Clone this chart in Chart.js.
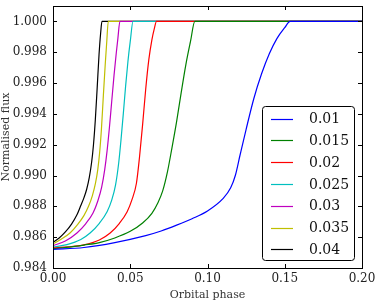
<!DOCTYPE html>
<html>
<head>
<meta charset="utf-8">
<script src="https://cdn.jsdelivr.net/npm/chart.js@4/dist/chart.umd.min.js"></script>
<style>
    html, body { margin: 0; padding: 0; background: #fff; }
    #wrap { width: 375px; height: 302px; }
</style>
</head>
<body>
<div id="wrap"><canvas id="fluxChart"></canvas></div>
<script>
// Light-curve egress for several radius ratios
const seriesLabels = ['0.01', '0.015', '0.02', '0.025', '0.03', '0.035', '0.04'];
const seriesColors = ['#0000ff', '#008000', '#ff0000', '#00bfbf', '#bf00bf', '#bfbf00', '#000000'];

const phase001 = [0, 0.02, 0.04, 0.06, 0.07, 0.08, 0.09, 0.10, 0.11, 0.115, 0.118, 0.121, 0.125, 0.13, 0.135, 0.14, 0.145, 0.15, 0.1535, 0.2];
const flux001 = [0.98520, 0.98533, 0.98565, 0.98610, 0.98640, 0.98678, 0.98720, 0.98770, 0.98850, 0.98920, 0.99000, 0.99130, 0.99300, 0.99500, 0.99660, 0.99790, 0.99890, 0.99960, 1.0, 1.0];

const phase0015 = [0, 0.01, 0.02, 0.03, 0.04, 0.05, 0.058, 0.064, 0.068, 0.071, 0.074, 0.077, 0.080, 0.083, 0.086, 0.089, 0.0918, 0.2];
const flux0015 = [0.98525, 0.98535, 0.98549, 0.98565, 0.98595, 0.98638, 0.98692, 0.98755, 0.98825, 0.98900, 0.99020, 0.99180, 0.99350, 0.99540, 0.99720, 0.99870, 1.0, 1.0];

const phase002 = [0, 0.01, 0.02, 0.03, 0.037, 0.043, 0.048, 0.051, 0.054, 0.056, 0.058, 0.060, 0.062, 0.064, 0.0655, 0.067, 0.2];
const flux002 = [0.98530, 0.98537, 0.98550, 0.98582, 0.98627, 0.98690, 0.98765, 0.98840, 0.98950, 0.99120, 0.99330, 0.99560, 0.99750, 0.99880, 0.99950, 1.0, 1.0];

const phase0025 = [0, 0.009, 0.018, 0.024, 0.030, 0.035, 0.038, 0.0405, 0.0425, 0.044, 0.0455, 0.047, 0.0485, 0.050, 0.0518, 0.2];
const flux0025 = [0.98536, 0.98552, 0.98585, 0.98627, 0.98690, 0.98765, 0.98840, 0.98940, 0.99080, 0.99230, 0.99400, 0.99580, 0.99740, 0.99870, 1.0, 1.0];

const phase003 = [0, 0.008, 0.0155, 0.021, 0.0259, 0.029, 0.0315, 0.0335, 0.035, 0.0365, 0.038, 0.0395, 0.041, 0.042, 0.0433, 0.2];
const flux003 = [0.98545, 0.98575, 0.98627, 0.98685, 0.98757, 0.98835, 0.98925, 0.99040, 0.99160, 0.99310, 0.99480, 0.99650, 0.99800, 0.99890, 1.0, 1.0];

const phase0035 = [0, 0.005, 0.011, 0.016, 0.020, 0.023, 0.0255, 0.0275, 0.029, 0.0302, 0.0314, 0.0326, 0.0338, 0.0348, 0.0358, 0.2];
const flux0035 = [0.98556, 0.98585, 0.98627, 0.98683, 0.98740, 0.98800, 0.98870, 0.98950, 0.99040, 0.99150, 0.99310, 0.99520, 0.99720, 0.99870, 1.0, 1.0];

const phase004 = [0, 0.004, 0.008, 0.012, 0.0155, 0.018, 0.020, 0.0218, 0.0235, 0.025, 0.0262, 0.0274, 0.0286, 0.0298, 0.0308, 0.0317, 0.2];
const flux004 = [0.98566, 0.98595, 0.98634, 0.98685, 0.98745, 0.98805, 0.98855, 0.98911, 0.98988, 0.99086, 0.99200, 0.99362, 0.99570, 0.99785, 0.99920, 1.0, 1.0];

const xTicks = [0.00, 0.05, 0.10, 0.15, 0.20];
const yTicks = [0.984, 0.986, 0.988, 0.990, 0.992, 0.994, 0.996, 0.998, 1.000];

const allPhases = [phase001, phase0015, phase002, phase0025, phase003, phase0035, phase004];
const allFluxes = [flux001, flux0015, flux002, flux0025, flux003, flux0035, flux004];

const FONT = "'DejaVu Serif', serif";

// matplotlib-like frame, inward ticks and a boxed legend inside the axes
const framePlugin = {
    id: 'frame',
    afterDatasetsDraw(chart) {
        const { ctx, chartArea: a, scales } = chart;
        ctx.save();
        ctx.strokeStyle = '#000';
        ctx.lineWidth = 1;
        ctx.strokeRect(Math.round(a.left) + 0.5, Math.round(a.top) + 0.5,
            Math.round(a.right - a.left), Math.round(a.bottom - a.top));

        ctx.beginPath();
        xTicks.forEach(v => {
            const x = Math.round(scales.x.getPixelForValue(v)) + 0.5;
            ctx.moveTo(x, a.bottom);
            ctx.lineTo(x, a.bottom - 4);
            ctx.moveTo(x, a.top);
            ctx.lineTo(x, a.top + 4);
        });
        yTicks.forEach(v => {
            const y = Math.round(scales.y.getPixelForValue(v)) + 0.5;
            ctx.moveTo(a.left, y);
            ctx.lineTo(a.left + 4, y);
            ctx.moveTo(a.right, y);
            ctx.lineTo(a.right - 4, y);
        });
        ctx.stroke();

        // legend
        const boxX = 262, boxY = 106, boxW = 92, boxH = 154;
        ctx.fillStyle = '#fff';
        ctx.strokeStyle = '#000';
        ctx.beginPath();
        ctx.roundRect(boxX + 0.5, boxY + 0.5, boxW, boxH, 3);
        ctx.fill();
        ctx.stroke();

        ctx.font = '14px ' + FONT;
        ctx.textBaseline = 'middle';
        ctx.textAlign = 'left';
        chart.data.datasets.forEach((ds, i) => {
            const y = 118.5 + i * 21.8;
            ctx.strokeStyle = ds.borderColor;
            ctx.lineWidth = 1.2;
            ctx.beginPath();
            ctx.moveTo(271, Math.round(y) + 0.5);
            ctx.lineTo(293, Math.round(y) + 0.5);
            ctx.stroke();
            ctx.fillStyle = '#111';
            ctx.fillText(ds.label, 309, y + 1);
        });
        ctx.restore();
    },
};

const datasets = seriesLabels.map((label, i) => ({
    label,
    data: allPhases[i].map((p, j) => ({ x: p, y: allFluxes[i][j] })),
    borderColor: seriesColors[i],
    borderWidth: 1.2,
    pointRadius: 0,
    fill: false,
    cubicInterpolationMode: 'monotone',
}));

const noPadding = scale => {
    scale.paddingLeft = 0;
    scale.paddingRight = 0;
    scale.paddingTop = 0;
    scale.paddingBottom = 0;
};

new Chart(document.getElementById('fluxChart'), {
    type: 'line',
    data: { datasets },
    options: {
        responsive: true,
        maintainAspectRatio: false,
        animation: false,
        layout: { padding: { top: 6, right: 13, left: 0, bottom: 0 } },
        plugins: {
            legend: { display: false },
            tooltip: { enabled: false },
        },
        scales: {
            x: {
                type: 'linear',
                min: 0,
                max: 0.2,
                afterBuildTicks: scale => {
                    scale.ticks = xTicks.map(value => ({ value }));
                },
                afterFit: scale => {
                    scale.height = 34;
                    noPadding(scale);
                },
                grid: { display: false, drawTicks: false },
                border: { display: false },
                ticks: {
                    color: '#222',
                    padding: 4,
                    maxRotation: 0,
                    font: { family: FONT, size: 12 },
                    callback: value => value.toFixed(2),
                },
                title: {
                    display: true,
                    text: 'Orbital phase',
                    color: '#333',
                    padding: { top: 0, bottom: 0 },
                    font: { family: FONT, size: 11 },
                },
            },
            y: {
                type: 'linear',
                min: 0.984,
                max: 1.001,
                afterBuildTicks: scale => {
                    scale.ticks = yTicks.map(value => ({ value }));
                },
                afterFit: scale => {
                    scale.width = 53;
                    noPadding(scale);
                },
                grid: { display: false, drawTicks: false },
                border: { display: false },
                ticks: {
                    color: '#222',
                    padding: 6,
                    font: { family: FONT, size: 12 },
                    callback: value => value.toFixed(3),
                },
                title: {
                    display: true,
                    text: 'Normalised flux',
                    color: '#333',
                    padding: { top: 0, bottom: 0 },
                    font: { family: FONT, size: 11 },
                },
            },
        },
    },
    plugins: [framePlugin],
});
</script>
</body>
</html>
